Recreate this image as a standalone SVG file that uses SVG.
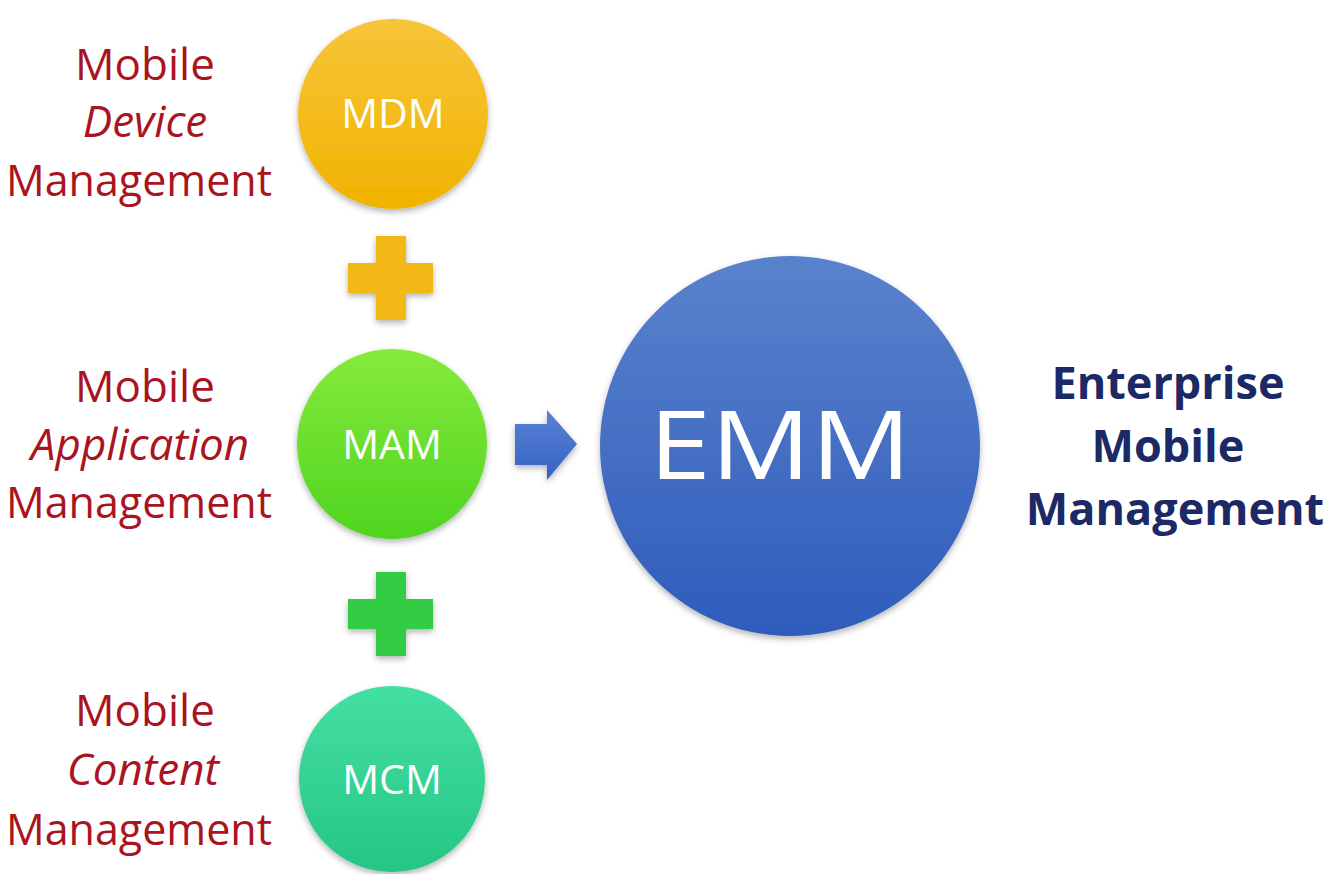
<svg xmlns="http://www.w3.org/2000/svg" width="1329" height="874" viewBox="0 0 1329 874">
<defs>
<linearGradient id="gY" x1="0" y1="0" x2="0" y2="1"><stop offset="0" stop-color="#f8c43a"/><stop offset="1" stop-color="#f0b300"/></linearGradient>
<linearGradient id="gG" x1="0" y1="0" x2="0" y2="1"><stop offset="0" stop-color="#86ea3c"/><stop offset="1" stop-color="#4fd420"/></linearGradient>
<linearGradient id="gT" x1="0" y1="0" x2="0" y2="1"><stop offset="0" stop-color="#44e0a4"/><stop offset="1" stop-color="#25c684"/></linearGradient>
<linearGradient id="gB" x1="0" y1="0" x2="0" y2="1"><stop offset="0" stop-color="#5a82cc"/><stop offset="1" stop-color="#2f5cbc"/></linearGradient>
<linearGradient id="gA" x1="0" y1="0" x2="0" y2="1"><stop offset="0" stop-color="#5a82d4"/><stop offset="1" stop-color="#3562c4"/></linearGradient>
<filter id="sh" x="-20%" y="-20%" width="140%" height="140%"><feDropShadow dx="0" dy="3" stdDeviation="3" flood-color="#000" flood-opacity="0.3"/></filter>
<style>
.lbl{font-family:"Open Sans","Noto Sans",sans-serif;font-size:44px;fill:#aa141e;text-anchor:middle}
.it{font-style:italic}
.ttl{font-family:"Open Sans","Noto Sans",sans-serif;font-size:45px;font-weight:bold;fill:#1b2a66;text-anchor:middle}
.cir{font-family:"Open Sans","Noto Sans",sans-serif;font-size:41px;fill:#ffffff;text-anchor:middle}
</style>
</defs>
<rect width="1329" height="874" fill="#ffffff"/>
<g id="mdm-label">
<text class="lbl" x="145" y="80">Mobile</text>
<text class="lbl it" x="145" y="137">Device</text>
<text class="lbl" x="139" y="196" textLength="266" lengthAdjust="spacingAndGlyphs">Management</text>
</g>
<g id="mdm">
<circle cx="393" cy="114" r="95" fill="url(#gY)" filter="url(#sh)"/>
<text class="cir" x="393" y="128">MDM</text>
</g>
<g id="plus1">
<path d="M376 236h30v27h27v30h-27v27h-30v-27h-28v-30h28z" fill="#f2b817" filter="url(#sh)"/>
</g>
<g id="mam-label">
<text class="lbl" x="145" y="402">Mobile</text>
<text class="lbl it" x="140" y="460">Application</text>
<text class="lbl" x="139" y="518" textLength="266" lengthAdjust="spacingAndGlyphs">Management</text>
</g>
<g id="mam">
<circle cx="392" cy="444" r="95" fill="url(#gG)" filter="url(#sh)"/>
<text class="cir" x="392" y="459">MAM</text>
</g>
<g id="plus2">
<path d="M376 572h30v27h27v30h-27v27h-30v-27h-28v-30h28z" fill="#33cc44" filter="url(#sh)"/>
</g>
<g id="mcm-label">
<text class="lbl" x="145" y="726">Mobile</text>
<text class="lbl it" x="143" y="785">Content</text>
<text class="lbl" x="139" y="845" textLength="266" lengthAdjust="spacingAndGlyphs">Management</text>
</g>
<g id="mcm">
<circle cx="392" cy="779" r="93" fill="url(#gT)" filter="url(#sh)"/>
<text class="cir" x="392" y="794">MCM</text>
</g>
<g id="connectors">
<path d="M515 424h32v-14l30 34l-30 36v-15h-32z" fill="url(#gA)" filter="url(#sh)"/>
</g>
<g id="emm">
<circle cx="790" cy="446" r="190" fill="url(#gB)" filter="url(#sh)"/>
<text x="780" y="479" font-family="Open Sans,Noto Sans,sans-serif" font-size="96" fill="#ffffff" text-anchor="middle" textLength="262" lengthAdjust="spacingAndGlyphs">EMM</text>
</g>
<g id="emm-label">
<text class="ttl" x="1168" y="399">Enterprise</text>
<text class="ttl" x="1168" y="462">Mobile</text>
<text class="ttl" x="1175" y="525">Management</text>
</g>
</svg>
